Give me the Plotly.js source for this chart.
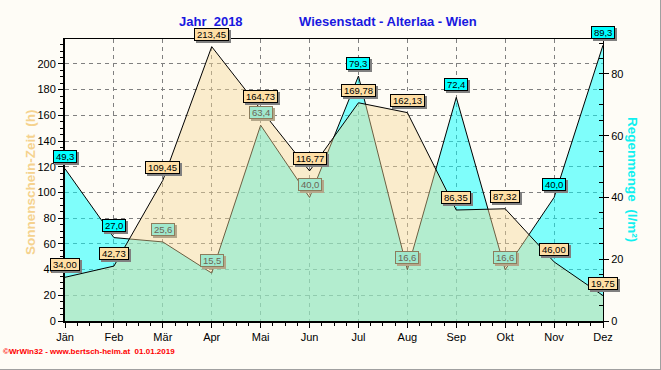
<!DOCTYPE html>
<html><head><meta charset="utf-8">
<script src="https://cdn.plot.ly/plotly-3.0.1.min.js"></script>
<style>
body{margin:0;background:#FEFCF6}
#c{width:660px;height:369px;border-right:1px solid #a0a0a0;border-bottom:1px solid #a0a0a0}
</style>
</head><body><div id="c"></div>
<script>
const months = ['Jän','Feb','Mär','Apr','Mai','Jun','Jul','Aug','Sep','Okt','Nov','Dez'];
const sunHours = [34.00, 42.73, 109.45, 213.45, 164.73, 116.77, 169.78, 162.13, 86.35, 87.32, 46.00, 19.75];
const rainMM = [49.3, 27.0, 25.6, 15.5, 63.4, 40.0, 79.3, 16.6, 72.4, 16.6, 40.0, 89.3];
const sunRange = [0, 219.4];
const rainRange = [0, 91.3];

const idx = months.map((m, i) => i);
const fmt = (v, d) => '\u2009' + v.toFixed(d).replace('.', ',') + '\u2009';
const scale = sunRange[1] / rainRange[1];

// plot area in pixels
const L = 65, R = 603, T = 39, B = 321;
const px2x = p => (p - L) / (R - L);
const py2y = p => (B - p) / (B - T);

const FONT = 'Liberation Sans, Arial, sans-serif';

const traces = [
  {x: idx, y: rainMM, yaxis: 'y', type: 'scatter', mode: 'lines', fill: 'tozeroy',
   fillcolor: 'rgba(0,255,255,0.5)', line: {color: '#000', width: 1}, hoverinfo: 'skip'},
  {x: idx, y: sunHours, yaxis: 'y2', type: 'scatter', mode: 'lines', fill: 'tozeroy',
   fillcolor: 'rgba(246,216,150,0.44)', line: {color: '#000', width: 1}, hoverinfo: 'skip'}
];

const ann = [];
function label(x, y, yref, text, bg, border, color, shadow) {
  ann.push({x, y, xref: 'x', yref, text, showarrow: false, xanchor: 'center', yanchor: 'bottom',
    xshift: 2, yshift: 4, bgcolor: shadow, bordercolor: shadow, borderwidth: 1, borderpad: 0,
    font: {family: FONT, size: 9.5, color: shadow}});
  ann.push({x, y, xref: 'x', yref, text, showarrow: false, xanchor: 'center', yanchor: 'bottom',
    yshift: 6, bgcolor: bg, bordercolor: border, borderwidth: 1, borderpad: 0,
    font: {family: FONT, size: 9.5, color}});
}
idx.forEach(i => {
  const hidden = rainMM[i] * scale < sunHours[i];
  if (hidden) label(i, rainMM[i], 'y', fmt(rainMM[i], 1), 'rgb(160,232,205)', '#8C7C5C', '#6C6454', '#B4A78A');
  else label(i, rainMM[i], 'y', fmt(rainMM[i], 1), '#00FFFF', '#000', '#000', '#808080');
});
idx.forEach(i => {
  label(i, sunHours[i], 'y2', fmt(sunHours[i], 2), '#FFDEA4', '#000', '#000', '#808080');
});

function txt(px, py, text, size, color, angle, xanchor) {
  ann.push({xref: 'paper', yref: 'paper', x: px2x(px), y: py2y(py), text, textangle: angle || 0,
    xanchor: xanchor || 'center', yanchor: 'middle', showarrow: false,
    font: {family: FONT, size, color}});
}
txt(211, 22, '<b>Jahr\u00a0\u00a02018</b>', 13, '#1818E0');
txt(388, 22, '<b>Wiesenstadt - Alterlaa - Wien</b>', 13, '#1818E0');
txt(30, 182, '<b>Sonnenschein-Zeit\u00a0\u00a0(h)</b>', 13.5, '#F5D28E', -90);
txt(633, 179, '<b>Regenmenge\u00a0\u00a0(l/m²)</b>', 13.5, '#10F0F0', 90);
txt(1, 351, '<b>©WrWin32 - www.bertsch-heim.at\u00a0\u00a001.01.2019</b>', 8, '#FF0000', 0, 'left');

const grid = {showgrid: true, gridcolor: '#808080', gridwidth: 1, griddash: '4px,4px'};
const layout = {
  width: 660, height: 369,
  margin: {l: L, r: 660 - R, t: T, b: 369 - B, pad: 0},
  paper_bgcolor: '#FEFCF6', plot_bgcolor: '#FEFCF6',
  showlegend: false,
  xaxis: Object.assign({range: [0, 11], tickmode: 'array', tickvals: idx, ticktext: months,
    showline: true, linecolor: '#000', linewidth: 1.5, mirror: true, zeroline: false,
    ticks: 'outside', ticklen: 5, tickcolor: '#000',
    minor: {ticks: 'outside', ticklen: 3, tickmode: 'linear', tick0: 0, dtick: 0.25, tickcolor: '#000', showgrid: false},
    tickfont: {family: FONT, size: 11, color: '#000'}}, grid),
  yaxis: {range: rainRange, side: 'right', tickmode: 'linear', tick0: 0, dtick: 20,
    showgrid: false, zeroline: false, showline: true, linecolor: '#000', linewidth: 1,
    ticks: 'outside', ticklen: 5, tickcolor: '#000',
    minor: {ticks: 'inside', ticklen: 4, dtick: 5, tickcolor: '#000', showgrid: false},
    tickfont: {family: FONT, size: 11, color: '#000'}},
  yaxis2: Object.assign({range: sunRange, overlaying: 'y', side: 'left', tickmode: 'linear', tick0: 0, dtick: 20,
    zeroline: false, showline: true, linecolor: '#000', linewidth: 2,
    ticks: 'outside', ticklen: 5, tickcolor: '#000',
    minor: {ticks: 'outside', ticklen: 3, dtick: 5, tickcolor: '#000', showgrid: false},
    tickfont: {family: FONT, size: 11, color: '#000'}}, grid),
  annotations: ann
};
Plotly.newPlot('c', traces, layout, {staticPlot: true});
</script></body></html>
